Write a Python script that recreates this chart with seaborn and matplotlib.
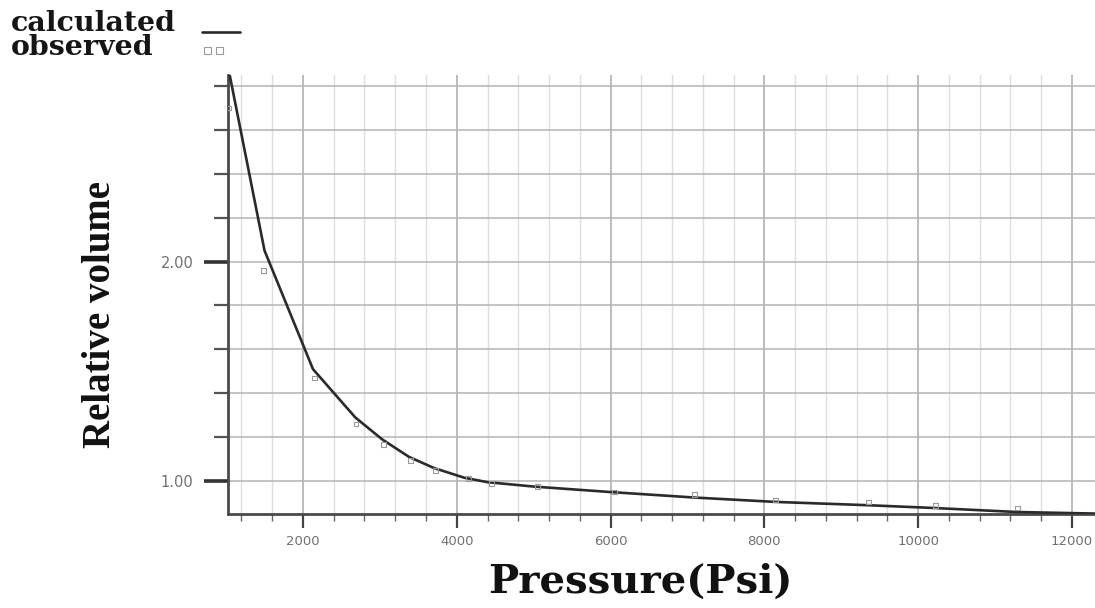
import matplotlib
matplotlib.use("Agg")
import matplotlib.pyplot as plt
import seaborn as sns
import numpy as np
import pandas as pd
from matplotlib.ticker import MultipleLocator, FixedLocator, FormatStrFormatter
from matplotlib.collections import PathCollection
from matplotlib.legend_handler import HandlerPathCollection

# ---- data ----
pressure = [1030, 1500, 2130, 2680, 3030, 3380, 3700, 4100, 4400, 5000, 6000,
            7090, 8150, 9350, 10230, 11290, 12300]
calculated = [2.88, 2.05, 1.51, 1.29, 1.19, 1.11, 1.06, 1.015, 0.995, 0.975, 0.95,
              0.925, 0.905, 0.89, 0.877, 0.859, 0.852]
obs_pressure = [1030, 1490, 2150, 2690, 3050, 3400, 3720, 4150, 4450, 5050, 6050,
                7090, 8150, 9350, 10230, 11290]
observed = [2.70, 1.96, 1.47, 1.26, 1.165, 1.095, 1.05, 1.01, 0.99, 0.975, 0.95,
            0.94, 0.914, 0.905, 0.89, 0.877]
y_major = [1.0, 2.0]
series_labels = ["calculated", "observed"]

sns.set_theme(style="white")
plt.rcParams["font.family"] = ["DejaVu Sans"]

fig = plt.figure(figsize=(10.95, 6.08), dpi=100)
ax = fig.add_axes([228 / 1095, 94 / 608, 1 - 228 / 1095, (514 - 75) / 608])

calc_df = pd.DataFrame({"P": pressure, "V": calculated})
obs_df = pd.DataFrame({"P": obs_pressure, "V": observed})

sns.lineplot(data=calc_df, x="P", y="V", ax=ax, color="#2a2a2a", lw=1.9,
             label=series_labels[0], zorder=3, sort=False)
sns.scatterplot(data=obs_df, x="P", y="V", ax=ax, marker="s", s=12,
                facecolors="none", edgecolors="#9a9a9a", linewidth=0.8,
                label=series_labels[1], zorder=4)

ax.set_xlim(1025, 12300)
ax.set_ylim(0.85, 2.85)

ax.xaxis.set_major_locator(MultipleLocator(2000))
ax.xaxis.set_minor_locator(MultipleLocator(400))
ax.yaxis.set_major_locator(FixedLocator(y_major))
ax.yaxis.set_minor_locator(MultipleLocator(0.2))
ax.yaxis.set_major_formatter(FormatStrFormatter("%.2f"))

ax.grid(which="major", axis="x", color="#a9a9a9", lw=1.1, zorder=0)
ax.grid(which="minor", axis="x", color="#dedede", lw=1.0, zorder=0)
ax.grid(which="both", axis="y", color="#b4b4b4", lw=1.1, zorder=0)
ax.set_axisbelow(True)

for s in ["top", "right"]:
    ax.spines[s].set_visible(False)
for s in ["left", "bottom"]:
    ax.spines[s].set_color("#4a4a4a")
    ax.spines[s].set_linewidth(2.0)

ax.tick_params(which="both", left=True, bottom=True, direction="out")
ax.tick_params(axis="y", which="major", length=17, width=2.6, color="#333333",
               labelsize=10.5, labelcolor="#707070", pad=8)
ax.tick_params(axis="y", which="minor", length=10, width=1.6, color="#555555")
ax.tick_params(axis="x", which="major", length=10, width=1.6, color="#444444",
               labelsize=9.5, labelcolor="#707070", pad=5)
ax.tick_params(axis="x", which="minor", length=5, width=1.0, color="#666666")

ax.set_xlabel("")
ax.set_ylabel("")

# legend: texts at left, handles to their right (as in the reference)
handles, labels = ax.get_legend_handles_labels()
if ax.get_legend() is not None:
    ax.get_legend().remove()
leg1 = fig.legend([handles[0]], [""], loc="upper left",
                  bbox_to_anchor=(202 / 1095, 1 - 26 / 608),
                  frameon=False, fontsize=9, handlelength=3.0,
                  handletextpad=0.0, borderaxespad=0.0, borderpad=0.0)
leg2 = fig.legend([handles[1]], [""], loc="upper left",
                  bbox_to_anchor=(204 / 1095, 1 - 45 / 608),
                  frameon=False, fontsize=9, handlelength=1.5,
                  handletextpad=0.0, borderaxespad=0.0, borderpad=0.0,
                  scatterpoints=2, scatteryoffsets=[0.5], markerscale=1.5,
                  handler_map={PathCollection: HandlerPathCollection(marker_pad=0.25)})
fig.text(11 / 1095, 1 - 55 / 608, "\n".join(labels), ha="left", va="baseline",
         multialignment="left", linespacing=0.84,
         family="DejaVu Serif", weight="bold", size=20.5, color="#151515")

fig.text(100 / 1095, 1 - 315 / 608, "Relative volume", rotation=90,
         ha="center", va="center", family="Liberation Serif", weight="bold",
         size=28, color="#111111")
fig.text(640 / 1095, 15 / 608, "Pressure(Psi)", ha="center", va="baseline",
         family="DejaVu Serif", weight="bold", size=29, color="#111111")

fig.savefig("out.png", dpi=100)
